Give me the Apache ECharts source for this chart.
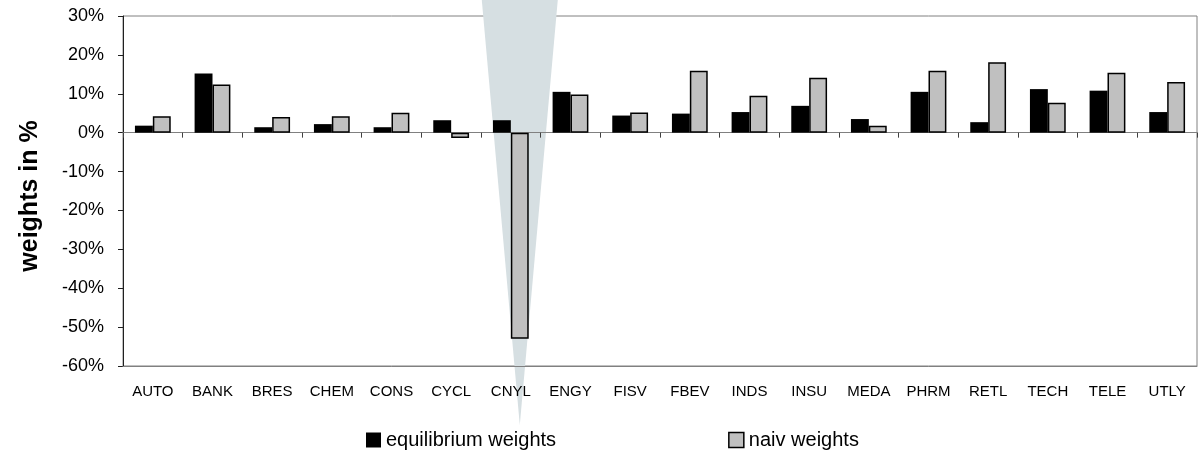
<!DOCTYPE html>
<html>
<head>
<meta charset="utf-8">
<script src="https://cdn.jsdelivr.net/npm/echarts@6/dist/echarts.min.js"></script>
<style>
html,body{margin:0;padding:0;background:#fff;}
#chart{width:1200px;height:454px;}
</style>
</head>
<body>
<div id="chart"></div>
<script>
const categories = ['AUTO','BANK','BRES','CHEM','CONS','CYCL','CNYL','ENGY','FISV','FBEV','INDS','INSU','MEDA','PHRM','RETL','TECH','TELE','UTLY'];
const equilibriumWeights = [1.8, 15.2, 1.4, 2.2, 1.4, 3.2, 3.2, 10.5, 4.4, 4.9, 5.3, 6.9, 3.5, 10.5, 2.7, 11.2, 10.8, 5.3];
const naivWeights = [4.2, 12.4, 4.0, 4.2, 5.1, -1.4, -53.0, 9.8, 5.2, 15.9, 9.5, 14.1, 1.8, 15.9, 18.1, 7.7, 15.4, 13.0];
const seriesNames = ['equilibrium weights', 'naiv weights'];
const yAxisTitle = 'weights in %';
const highlightCategory = 'CNYL';

const FONT = '"Liberation Sans", Arial, Helvetica, sans-serif';
const chart = echarts.init(document.getElementById('chart'), null, {renderer: 'canvas'});

const option = {
  animation: false,
  backgroundColor: '#ffffff',
  textStyle: {fontFamily: FONT},
  grid: {
    left: 123, right: 3, top: 16, bottom: 88,
    show: true, borderColor: '#808080', borderWidth: 1, backgroundColor: 'transparent'
  },
  legend: {
    left: 366, top: 430, padding: 0,
    itemWidth: 15, itemHeight: 15, itemGap: 172,
    icon: 'rect',
    textStyle: {fontSize: 20, color: '#000', fontFamily: FONT},
    data: [
      {name: seriesNames[0], itemStyle: {color: '#000', borderWidth: 0}},
      {name: seriesNames[1], itemStyle: {color: '#c0c0c0', borderColor: '#000', borderWidth: 1.5}}
    ]
  },
  xAxis: [
    {
      type: 'category', data: categories, position: 'bottom', z: 3,
      axisLine: {onZero: true, lineStyle: {color: '#808080', width: 1}},
      axisTick: {show: true, length: 5, lineStyle: {color: '#404040'}},
      axisLabel: {show: false},
      splitLine: {show: false}
    },
    {
      type: 'category', data: categories, position: 'bottom', z: 5,
      axisLine: {show: true, onZero: false, lineStyle: {color: '#808080', width: 1}},
      axisTick: {show: false},
      axisLabel: {show: true, fontSize: 15, color: '#000', margin: 18, interval: 0, fontFamily: FONT},
      splitLine: {show: false}
    }
  ],
  yAxis: {
    type: 'value', min: -60, max: 30, interval: 10,
    name: yAxisTitle, nameLocation: 'middle', nameGap: 80, nameRotate: 90,
    nameTextStyle: {fontSize: 25, fontWeight: 'bold', color: '#000', fontFamily: FONT, padding: [0, 10, 0, 0]},
    axisLine: {show: true, lineStyle: {color: '#202020', width: 1}},
    axisTick: {show: true, length: 5, lineStyle: {color: '#202020'}},
    axisLabel: {formatter: '{value}%', fontSize: 18, color: '#000', margin: 19, fontFamily: FONT},
    splitLine: {show: false}
  },
  series: [
    {
      name: seriesNames[0], type: 'bar', xAxisIndex: 0, z: 4,
      data: equilibriumWeights,
      barGap: '0%', barCategoryGap: '40%',
      itemStyle: {color: '#000'}
    },
    {
      name: seriesNames[1], type: 'bar', xAxisIndex: 0, z: 4,
      data: naivWeights,
      barGap: '0%', barCategoryGap: '40%',
      itemStyle: {color: '#c0c0c0', borderColor: '#000', borderWidth: 1.5}
    }
  ]
};
chart.setOption(option);

// Spotlight triangle anchored on the highlighted category's naiv bar
const catX = chart.convertToPixel({xAxisIndex: 0}, highlightCategory);
const bandW = (1200 - 123 - 3) / categories.length;
const barW = bandW * 0.6 / 2;
const apexX = catX + barW / 2;
const halfTop = 38;
chart.setOption({
  graphic: [{
    type: 'polygon', z: 1, silent: true,
    shape: {points: [[apexX - halfTop, 0], [apexX + halfTop, 0], [apexX, 425]]},
    style: {fill: '#d6dfe2'}
  }]
});
</script>
</body>
</html>
